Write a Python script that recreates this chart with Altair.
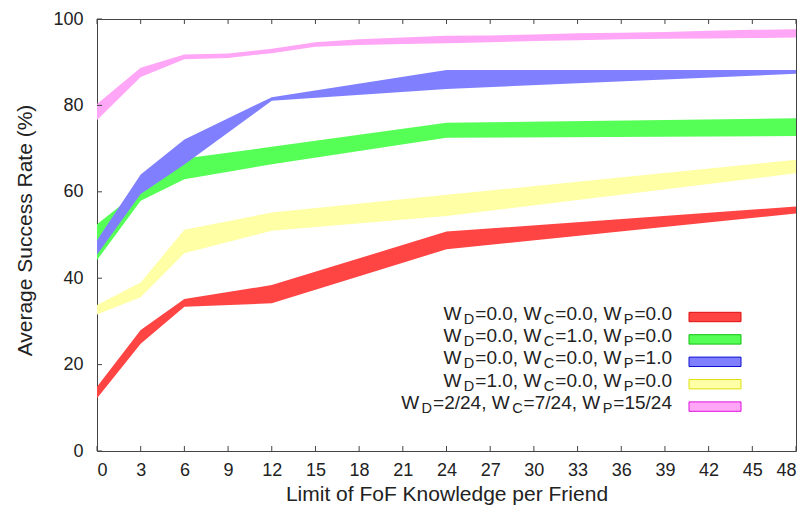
import re
import altair as alt
import pandas as pd

# ---------------- data ----------------
x_main = [0, 3, 6, 12, 24, 48]
x_pink = [0, 3, 6, 9, 12, 15, 18, 21, 24, 27, 30, 33, 36, 39, 42, 45, 48]

red_lo = [12.2, 24.8, 33.4, 34.2, 46.7, 55.0]
red_hi = [14.9, 28.0, 35.2, 38.4, 50.8, 56.6]
green_lo = [44.2, 57.9, 62.9, 66.4, 72.5, 72.9]
green_hi = [52.5, 60.5, 67.7, 70.4, 76.0, 77.0]
blue_lo = [45.4, 59.5, 66.3, 81.1, 83.8, 87.3]
blue_hi = [48.8, 64.0, 72.1, 81.9, 88.2, 88.2]
yellow_lo = [31.6, 35.6, 45.8, 51.0, 54.4, 64.3]
yellow_hi = [33.8, 39.0, 51.2, 55.2, 59.3, 67.4]
pink_lo = [76.6, 86.6, 90.7, 91.0, 92.1, 93.6, 94.0, 94.2, 94.4, 94.6, 94.9, 95.1, 95.3, 95.4, 95.5, 95.6, 95.7]
pink_hi = [80.3, 88.7, 91.8, 92.0, 93.1, 94.6, 95.3, 95.7, 96.1, 96.2, 96.4, 96.7, 96.8, 97.0, 97.3, 97.5, 97.6]

legend_labels = [
    "W_D=0.0, W_C=0.0, W_P=0.0",
    "W_D=0.0, W_C=1.0, W_P=0.0",
    "W_D=0.0, W_C=0.0, W_P=1.0",
    "W_D=1.0, W_C=0.0, W_P=0.0",
    "W_D=2/24, W_C=7/24, W_P=15/24",
]
fills = ["#ff4444", "#55ff55", "#8080ff", "#ffffa6", "#ffa6f6"]
strokes = ["#e01010", "#10c010", "#1010d0", "#e0e010", "#e010e0"]

x_tick_values = [0, 3, 6, 9, 12, 15, 18, 21, 24, 27, 30, 33, 36, 39, 42, 45, 48]
y_tick_values = [0, 20, 40, 60, 80, 100]

x_title = "Limit of FoF Knowledge per Friend"
y_title = "Average Success Rate (%)"

# ---------------- layout ----------------
W_PLOT, H_PLOT = 699, 432
FONT = "Liberation Sans"
TXT = "#222222"
BORDER = "#444444"

series = [
    (x_main, red_lo, red_hi),
    (x_main, green_lo, green_hi),
    (x_main, blue_lo, blue_hi),
    (x_main, yellow_lo, yellow_hi),
    (x_pink, pink_lo, pink_hi),
]

xscale = alt.Scale(domain=[0, 48], nice=False, zero=False)
yscale = alt.Scale(domain=[0, 100], nice=False, zero=False)
xa = alt.Axis(values=x_tick_values, title=x_title, labelPadding=10,
              titlePadding=4, ticks=False, tickSize=0, domain=False, grid=False,
              labelFont=FONT, labelFontSize=18, labelColor=TXT,
              titleFont=FONT, titleFontSize=21, titleFontWeight="normal", titleColor=TXT)
ya = alt.Axis(values=y_tick_values, title=y_title, labelPadding=14,
              titlePadding=17, ticks=False, tickSize=0, domain=False, grid=False,
              titleY=211,
              labelFont=FONT, labelFontSize=18, labelColor=TXT,
              titleFont=FONT, titleFontSize=21, titleFontWeight="normal", titleColor=TXT)

layers = []
for i, (xs, lo, hi) in enumerate(series):
    df = pd.DataFrame({"x": xs, "lo": lo, "hi": hi})
    layers.append(
        alt.Chart(df).mark_area(color=fills[i], opacity=1, interpolate="linear").encode(
            x=alt.X("x:Q", scale=xscale, axis=xa),
            y=alt.Y("lo:Q", scale=yscale, axis=ya),
            y2="hi:Q",
        )
    )

# inward ticks (bottom, top, left)
xt = pd.DataFrame({"x": x_tick_values})
yt = pd.DataFrame({"lo": y_tick_values})
layers.append(alt.Chart(xt).mark_rule(color=BORDER, strokeWidth=1).encode(
    x=alt.X("x:Q", scale=xscale, axis=xa), y=alt.value(H_PLOT), y2=alt.value(H_PLOT - 5)))
layers.append(alt.Chart(xt).mark_rule(color=BORDER, strokeWidth=1).encode(
    x=alt.X("x:Q", scale=xscale, axis=xa), y=alt.value(0), y2=alt.value(5)))
layers.append(alt.Chart(yt).mark_rule(color=BORDER, strokeWidth=1).encode(
    y=alt.Y("lo:Q", scale=yscale, axis=ya), x=alt.value(0), x2=alt.value(5)))

# ---------------- legend (manual, with subscripts) ----------------
CW = {"W": 944, "D": 722, "C": 722, "P": 667, "=": 584, ".": 278, ",": 278, " ": 278, "/": 278}
for d in "0123456789":
    CW[d] = 556


def tw(s, fs):
    return sum(CW[c] for c in s) * fs / 1000.0


FS_MAIN, FS_SUB = 19, 14.5
GAP_BEFORE_SUB, GAP_AFTER_SUB = 2.5, 1
TEXT_RIGHT = 672 - 97
SW_X0, SW_X1 = 689 - 97, 741 - 97
ROW0_BASE = 319.5 - 19
ROW_STEP = 22.4

for r, lab in enumerate(legend_labels):
    parts = []
    for tok in re.split(r"(_[A-Z])", lab):
        if not tok:
            continue
        if tok.startswith("_"):
            parts.append((tok[1:], True))
        else:
            parts.append((tok, False))
    total = 0.0
    for t, sub in parts:
        if sub:
            total += GAP_BEFORE_SUB + tw(t, FS_SUB) + GAP_AFTER_SUB
        else:
            total += tw(t, FS_MAIN)
    base = ROW0_BASE + r * ROW_STEP
    cx = TEXT_RIGHT - total
    for t, sub in parts:
        if sub:
            cx += GAP_BEFORE_SUB
            fs, yy = FS_SUB, base + 4
        else:
            fs, yy = FS_MAIN, base
        layers.append(
            alt.Chart(pd.DataFrame({"t": [t]})).mark_text(
                align="left", baseline="alphabetic", font=FONT, fontSize=fs, color=TXT
            ).encode(x=alt.value(cx), y=alt.value(yy), text="t:N")
        )
        cx += tw(t, fs) + (GAP_AFTER_SUB if sub else 0)
    # swatch
    layers.append(
        alt.Chart(pd.DataFrame({"k": [r]})).mark_rect(
            fill=fills[r], stroke=strokes[r], strokeWidth=1
        ).encode(x=alt.value(SW_X0), x2=alt.value(SW_X1),
                 y=alt.value(base - 7.2), y2=alt.value(base + 2.2))
    )

chart = alt.layer(*layers).properties(
    width=W_PLOT, height=H_PLOT,
    background="white",
    autosize=alt.AutoSizeParams(type="none"),
    padding={"left": 89, "top": 11, "right": 4, "bottom": 57},
).configure_view(
    stroke=BORDER, strokeWidth=1
)

chart.save("out.html", embed_options={"renderer": "svg", "actions": False})
